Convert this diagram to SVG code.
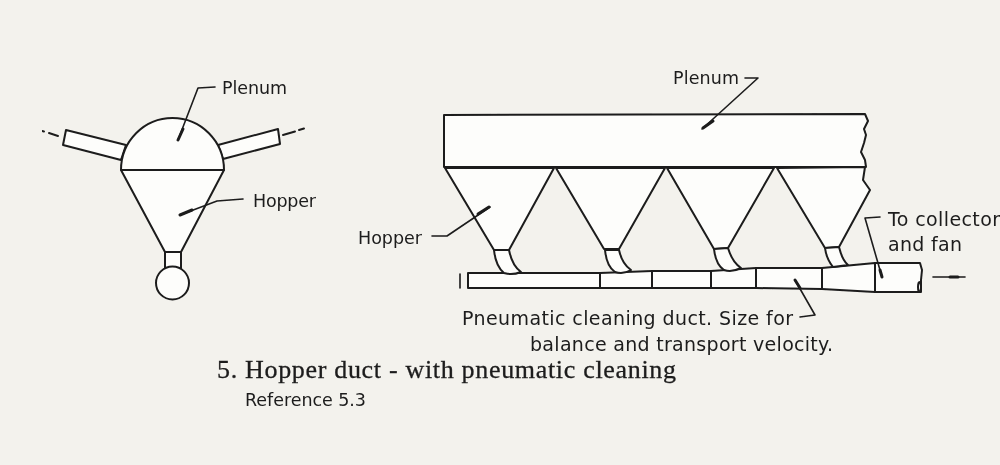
<svg xmlns="http://www.w3.org/2000/svg" width="1000" height="465" viewBox="0 0 1000 465">
<style>
.s{fill:#fdfdfb;stroke:#1c1c1c;stroke-width:2;stroke-linejoin:round}
.l{fill:none;stroke:#1c1c1c;stroke-width:1.6;stroke-linecap:round;stroke-linejoin:round}
.k{fill:none;stroke:#1c1c1c;stroke-width:3;stroke-linecap:round}
text{font-family:"DejaVu Sans","Liberation Sans",sans-serif;font-size:17.500px;fill:#1c1c1c}
text.b{font-size:19px}
.t{font-family:"Liberation Serif","Times New Roman",serif;font-size:26px;stroke:#1c1c1c;stroke-width:0.3px}
</style>
<defs><filter id="soft" x="0" y="0" width="100%" height="100%"><feGaussianBlur stdDeviation="0.45"/></filter></defs>
<rect width="1000" height="465" fill="#f3f2ed"/>
<g filter="url(#soft)">
<g id="side-view">
<g id="side-duct-left"><path class="s" d="M66 130L63 145L121 160L126 145Z"/></g>
<g id="side-duct-right"><path class="s" d="M278 129L280 144L223 159L218 145Z"/></g>
<g id="side-neck"><rect class="s" x="165" y="252" width="16" height="17"/></g>
<g id="side-plenum"><path class="s" d="M121 170A51.500 52 0 0 1 224 170Z"/></g>
<g id="side-hopper"><path class="s" d="M121 170L224 170L181 252L165 252Z"/></g>
<g id="side-duct-circle"><circle class="s" cx="172.500" cy="283" r="16.500"/></g>
<text x="222" y="94" textLength="65" lengthAdjust="spacing">Plenum</text>
<text x="253" y="207" textLength="63" lengthAdjust="spacing">Hopper</text>
</g>
<g id="front-view">
<g id="front-plenum"><path class="s" d="M444 115L865 114L868 121L864 129L866 135L864 143L861 152L865 160L866 167L444 167Z"/></g>
<g id="hopper-1"><path class="s" d="M445 168L554 168L509 250L494 250Z"/></g>
<g id="hopper-2"><path class="s" d="M556 168L665 168L619 249L604 249Z"/></g>
<g id="hopper-3"><path class="s" d="M667 168L774 168L728 248L714 249Z"/></g>
<g id="hopper-4"><path class="s" d="M777 168L865 167L863 180L870 190L839 247L825 248Z"/></g>
<g id="duct">
<path class="s" d="M468 273L600 273L652 271L711 271L756 268L822 268L875 263L875 292L822 289L756 288L711 288L652 288L600 288L468 288Z"/>
<path class="s" d="M875 263L920 263L922 270L921 280L921 292L875 292Z"/>
<path class="l" d="M600 273V288M652 271V288M711 271V288M756 268V288M822 268V289M875 263V292" style="stroke-width:2"/>
<ellipse class="s" cx="919.500" cy="287" rx="1.500" ry="5"/>
</g>
<g id="elbow-1"><path class="s" d="M494 250C495 260 498 268 504 273C510 275 516 274 521 272C514 267 511 260 509 250Z"/></g>
<g id="elbow-2"><path class="s" d="M605 250C606 260 609 268 615 272C621 274 626 273 631 270C625 266 621 259 619 250Z"/></g>
<g id="elbow-3"><path class="s" d="M714 249C715 258 718 266 724 270C730 272 735 271 741 268C735 264 731 258 728 248Z"/></g>
<g id="elbow-4"><path class="s" d="M825 248C826 256 829 262 833 267L848 265C843 261 841 255 839 247Z"/></g>
</g>
<g id="connectors">
<path class="l" d="M215 87L198 88L178 140"/><path class="k" d="M183 129L178 140"/>
<path class="l" d="M243 199L217 201L180 215"/><path class="k" d="M192 210L180 215"/>
<path class="k" d="M42 131L44 131.500M49 133L58 136" style="stroke-width:2"/>
<path class="k" d="M283 135L295 131.500M299 130L304 128.500" style="stroke-width:2"/>
<path class="l" d="M745 78L758 78L702 129"/><path class="k" d="M713 121L703 128"/>
<path class="l" d="M432 236L447 236L490 207"/><path class="k" d="M478 214L489 207"/>
<path class="l" d="M880 217L865 218L882 277"/><path class="k" d="M880 270L882 277"/>
<path class="l" d="M800 317L815 315L795 280"/><path class="k" d="M800 288L795 280"/>
<path class="l" d="M933 277H965"/><path class="k" d="M950 277H958"/>
<path class="l" d="M460 274V288"/>
</g>
<g id="labels">
<text x="673" y="84" textLength="66" lengthAdjust="spacing">Plenum</text>
<text x="358" y="244" textLength="64" lengthAdjust="spacing">Hopper</text>
<text class="b" x="888" y="226" textLength="112" lengthAdjust="spacing">To collector</text>
<text class="b" x="888" y="251" textLength="74" lengthAdjust="spacing">and fan</text>
<text class="b" x="462" y="325" textLength="331" lengthAdjust="spacing">Pneumatic cleaning duct. Size for</text>
<text class="b" x="530" y="351" textLength="303" lengthAdjust="spacing">balance and transport velocity.</text>
<text class="t" x="217" y="378" textLength="459" lengthAdjust="spacing">5. Hopper duct - with pneumatic cleaning</text>
<text x="245" y="406" textLength="121" lengthAdjust="spacing">Reference 5.3</text>
</g>
</g>
</svg>
